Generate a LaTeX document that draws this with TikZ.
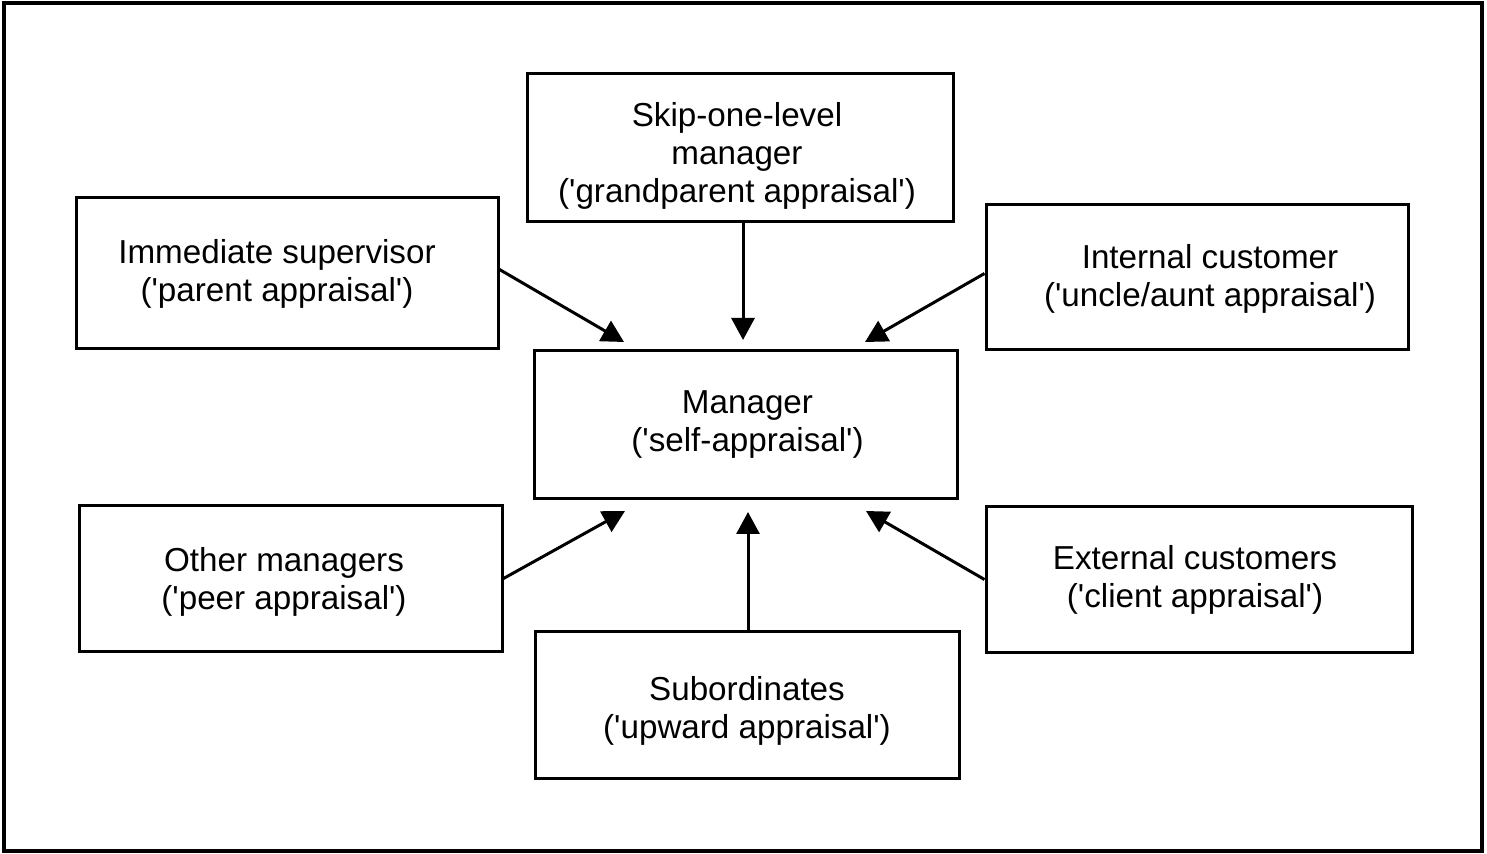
\documentclass[tikz,border=0pt]{standalone}
\usepackage{fontspec}
\setmainfont{Liberation Sans}
\usetikzlibrary{arrows.meta}
\newcommand{\q}{\textquotesingle}
\begin{document}
\begin{tikzpicture}[x=0.5pt,y=-0.5pt,
  box/.style={draw, line width=1.5pt, inner sep=0pt},
  txt/.style={align=center, inner sep=0pt, font=\fontsize{16.6}{19}\selectfont},
  arr/.style={line width=1.5pt, -{Triangle[length=11pt,width=11.5pt]}}]
\useasboundingbox (0,0) rectangle (1487,854);
\draw[line width=1.8pt] (4,3) rectangle (1482,851);
\node[box, minimum width=213pt, minimum height=74pt] (skip) at (740,148) {};
\node[box, minimum width=211pt, minimum height=75.5pt] (imm) at (287,273.5) {};
\node[box, minimum width=211pt, minimum height=72.5pt] (int) at (1197,277.5) {};
\node[box, minimum width=211.5pt, minimum height=74pt] (mgr) at (745.5,425) {};
\node[box, minimum width=211.5pt, minimum height=72.5pt] (oth) at (290.5,578.5) {};
\node[box, minimum width=213pt, minimum height=72.5pt] (ext) at (1199,579.5) {};
\node[box, minimum width=212pt, minimum height=73.5pt] (sub) at (747,704.5) {};
\node[txt] (skipT) at (737,155.5) {Skip-one-level\\manager\\(\q grandparent appraisal\q)};
\node[txt] (immT) at (277,273.5) {Immediate supervisor\\(\q parent appraisal\q)};
\node[txt] (intT) at (1210,279) {Internal customer\\(\q uncle/aunt appraisal\q)};
\node[txt] (mgrT) at (747.5,425) {Manager\\(\q self-appraisal\q)};
\node[txt] (othT) at (284,581.5) {Other managers\\(\q peer appraisal\q)};
\node[txt] (extT) at (1195,579.5) {External customers\\(\q client appraisal\q)};
\node[txt] (subT) at (747,710.5) {Subordinates\\(\q upward appraisal\q)};
\coordinate (tS) at (743,340);
\coordinate (tI) at (624,342);
\coordinate (tN) at (865,342);
\coordinate (tO) at (625,511);
\coordinate (tE) at (866,511);
\coordinate (tU) at (748,512);
\draw[arr] (skip.south -| tS) -- (tS);
\draw[arr] ([yshift=2pt]imm.east) -- (tI);
\draw[arr] ([yshift=2pt]int.west) -- (tN);
\draw[arr] (oth.east) -- (tO);
\draw[arr] (ext.west) -- (tE);
\draw[arr] (sub.north -| tU) -- (tU);
\end{tikzpicture}
\end{document}
